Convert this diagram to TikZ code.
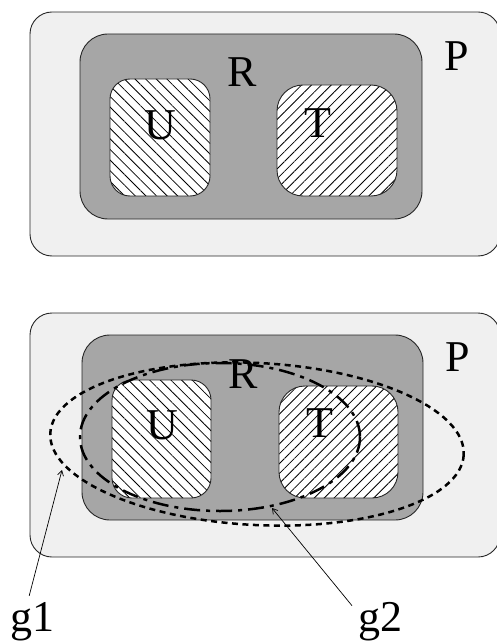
\documentclass[tikz,border=0pt]{standalone}
\usepackage{fontspec}
\setmainfont{Liberation Serif}
\usetikzlibrary{patterns.meta,arrows.meta}
\definecolor{pfill}{gray}{0.94}
\definecolor{rfill}{gray}{0.65}
\tikzset{
  pbox/.style={draw=black!85, fill=pfill, line width=0.9pt, rounded corners=22pt},
  rbox/.style={draw=black!85, fill=rfill, line width=0.9pt, rounded corners=28pt},
  ubox/.style={draw=black!85, line width=0.9pt, rounded corners=20pt,
    preaction={fill=white}, pattern={Lines[angle=-45,distance=7.5pt,line width=0.8pt]}},
  tbox/.style={draw=black!85, line width=0.9pt, rounded corners=26pt,
    preaction={fill=white}, pattern={Lines[angle=45,distance=7pt,line width=0.8pt]}},
  lab/.style={inner sep=0pt, font=\fontsize{44}{52}\selectfont},
  gone/.style={line width=2.5pt, dash pattern=on 6pt off 4.5pt},
  gtwo/.style={line width=2.5pt, dash pattern=on 16pt off 6pt on 4pt off 6pt},
  pointer/.style={line width=0.7pt, -{Straight Barb[length=5pt,width=6pt]}}
}
\begin{document}
\begin{tikzpicture}[x=1pt,y=-1pt]
\useasboundingbox (0,0) rectangle (497,644);
% ---------- top diagram
\draw[pbox] (30,12) rectangle (500,256);
\draw[rbox] (80,34) rectangle (422,219);
\draw[ubox] (110,79) rectangle (210,196);
\draw[tbox] (277,85) rectangle (397,196);
\node[lab] (P1) at (457,56) {P};
\node[lab] (R1) at (242,72) {R};
\node[lab] (U1) at (160,125) {U};
\node[lab] (T1) at (318,123) {T};
% ---------- bottom diagram
\draw[pbox] (30,313) rectangle (500,557);
\draw[rbox] (82,335) rectangle (423,520);
\draw[ubox] (112,380) rectangle (211,498);
\draw[tbox] (279,386) rectangle (398,498);
\node[lab] (P2) at (458,357) {P};
\node[lab] (R2) at (243,374) {R};
\node[lab] (U2) at (162,425) {U};
\node[lab] (T2) at (320,423) {T};
% groups
\draw[gone, rotate around={-3:(257,444)}] (257,444) ellipse [x radius=207, y radius=81];
\draw[gtwo] (220,437) ellipse [x radius=140, y radius=74];
% labels and pointers
\node[lab, anchor=base west] (g1) at (10,631) {g1};
\node[lab, anchor=base west] (g2) at (358,631) {g2};
\coordinate (a1) at (62,470);
\coordinate (a2) at (272,508);
\draw[pointer] ([xshift=-3pt,yshift=6pt]g1.north) -- (a1);
\draw[pointer] ([xshift=-6pt,yshift=-4pt]g2.north west) -- (a2);
\end{tikzpicture}
\end{document}
